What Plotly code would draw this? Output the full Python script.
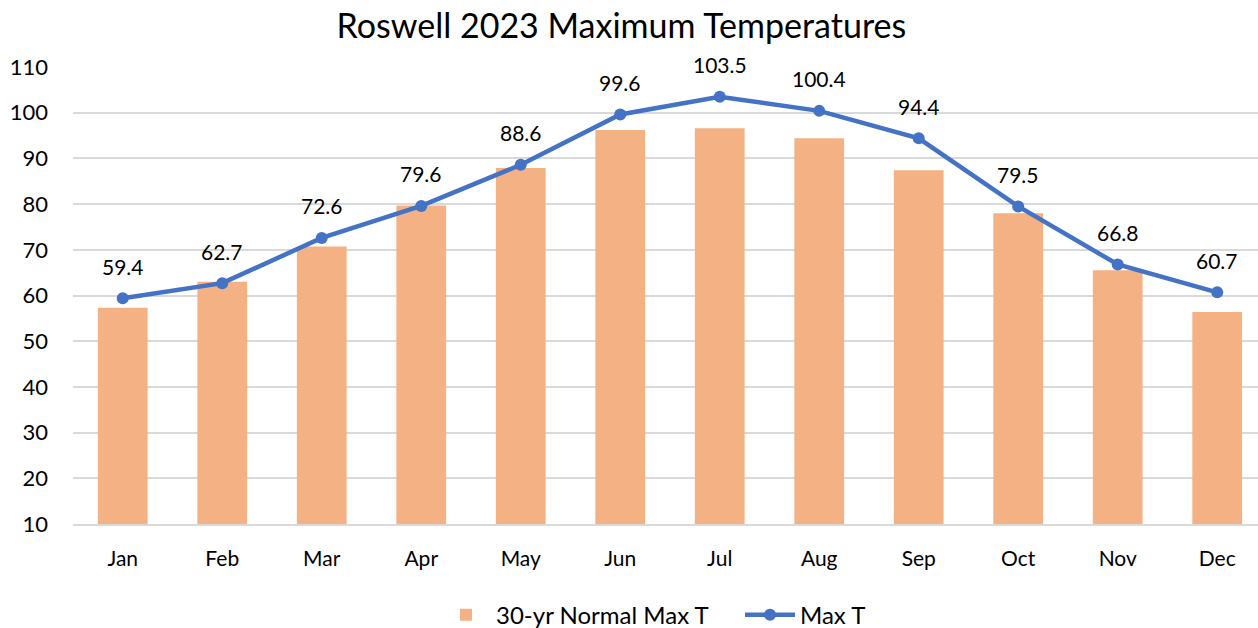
import plotly.graph_objects as go

months = ["Jan", "Feb", "Mar", "Apr", "May", "Jun", "Jul", "Aug", "Sep", "Oct", "Nov", "Dec"]
normal_max = [57.3, 63.0, 70.7, 79.7, 87.9, 96.2, 96.6, 94.4, 87.4, 78.0, 65.5, 56.4]
max_t = [59.4, 62.7, 72.6, 79.6, 88.6, 99.6, 103.5, 100.4, 94.4, 79.5, 66.8, 60.7]
y_ticks = [10, 20, 30, 40, 50, 60, 70, 80, 90, 100, 110]

FONT = "Lato"
fig = go.Figure()
fig.add_trace(go.Bar(
    x=list(range(len(months))), y=normal_max, name="30-yr Normal Max T",
    marker=dict(color="#F4B183", line=dict(width=0)), width=0.5,
))
fig.add_trace(go.Scatter(
    x=list(range(len(months))), y=max_t, name="Max T", mode="lines+markers",
    line=dict(color="#4472C4", width=4.5), marker=dict(size=12, color="#4472C4"),
))
for i, v in enumerate(max_t):
    fig.add_annotation(x=i, y=v, text=f"{v:.1f}", showarrow=False, yshift=32,
                       font=dict(family=FONT, size=21, color="#000000"))

fig.update_layout(
    width=1258, height=628,
    paper_bgcolor="white", plot_bgcolor="white",
    margin=dict(l=73, r=0, t=67, b=104, autoexpand=False),
    title=dict(text="Roswell 2023 Maximum Temperatures", x=0.494, xanchor="center",
               y=0.959, yanchor="middle", font=dict(family=FONT, size=34, color="#000000")),
    font=dict(family=FONT, size=21, color="#000000"),
    bargap=0.5,
    legend=dict(orientation="h", x=(436 - 73) / 1185, xanchor="left", y=-0.15, yanchor="top",
                font=dict(family=FONT, size=24), itemwidth=50, traceorder="normal",
                entrywidth=239),
    xaxis=dict(range=[-0.5, 11.41], tickmode="array", tickvals=list(range(len(months))),
               ticktext=months, showgrid=False, showline=True, linecolor="#D9D9D9",
               linewidth=1.5, ticks="", ticklabelstandoff=15, fixedrange=True),
    yaxis=dict(range=[10, 110], tickmode="array", tickvals=y_ticks, showgrid=True,
               gridcolor="#D9D9D9", gridwidth=1.5, zeroline=False, ticks="",
               ticklabelstandoff=24, fixedrange=True, tickfont=dict(size=22)),
)
fig.write_html("out.html", config={"displayModeBar": False},
               post_script="document.body.style.margin='0';document.body.style.overflow='hidden';")
